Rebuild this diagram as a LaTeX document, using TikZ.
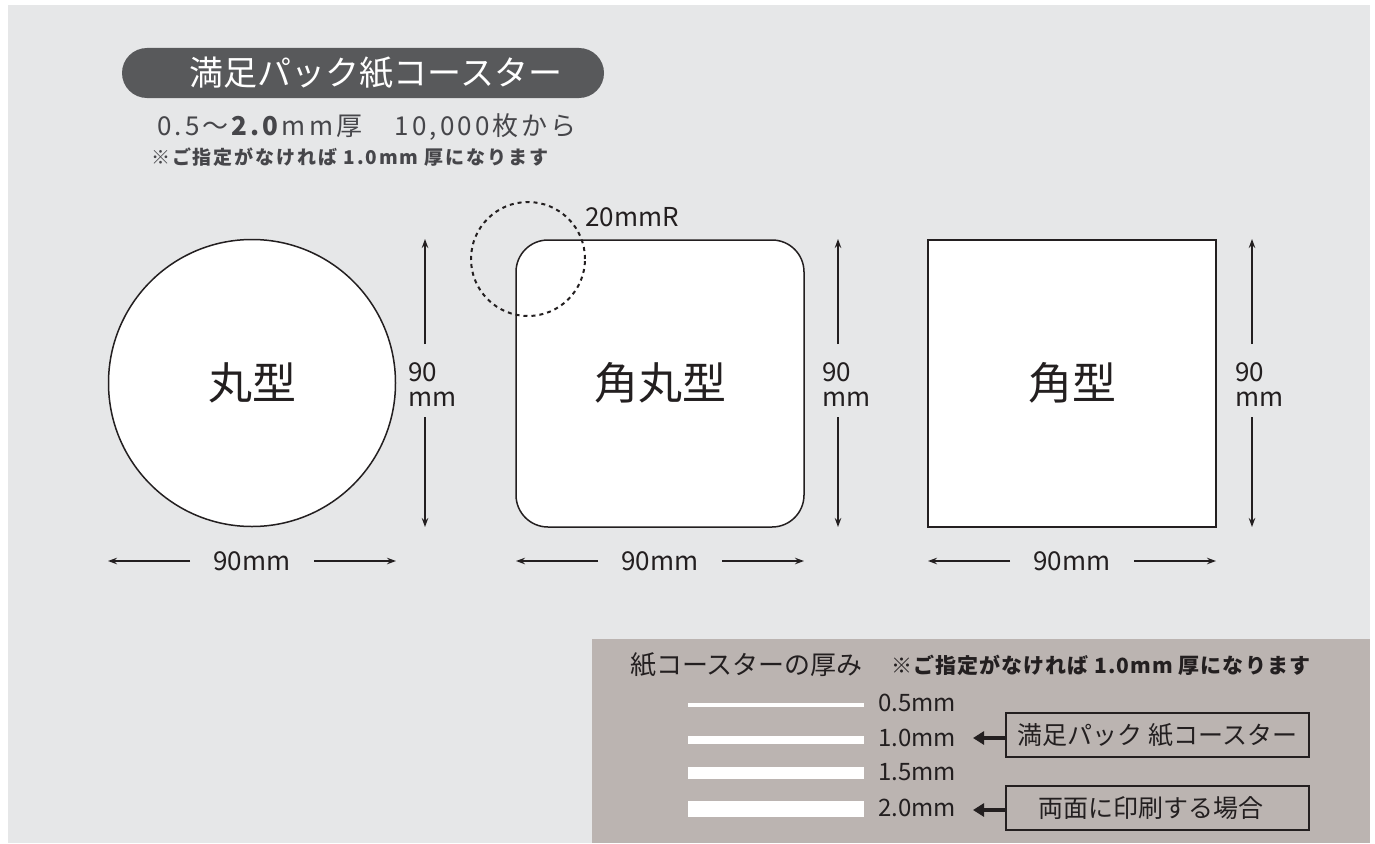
\documentclass[tikz,border=0pt]{standalone}
\usepackage{fontspec}
\setmainfont{Noto Sans CJK JP}
\newfontfamily\jpwide{Noto Sans CJK JP}[LetterSpace=12]
\newfontfamily\jpnote{Noto Sans CJK JP}[LetterSpace=10]
\newfontfamily\jppanel{Noto Sans CJK JP}[LetterSpace=5]
\usetikzlibrary{arrows.meta}
\definecolor{bg}{HTML}{E6E7E8}
\definecolor{pillc}{HTML}{58595B}
\definecolor{panelc}{HTML}{BBB4B1}
\definecolor{ink}{HTML}{231F20}
\definecolor{subc}{HTML}{46464A}
\tikzset{
  shapebox/.style={draw=ink, fill=white, line width=1.5pt, inner sep=0pt},
  dimarrow/.style={draw=ink, line width=1.2pt, -{Stealth[length=9pt,width=6.5pt]}},
  dimlabel/.style={text=ink, font=\fontsize{26}{24}\selectfont, inner sep=0pt},
  vlabel/.style={text=ink, font=\fontsize{26}{26}\selectfont, inner sep=0pt, anchor=base west},
  shapelabel/.style={text=ink, font=\fontsize{44}{48}\selectfont},
  rowlabel/.style={text=ink, font=\fontsize{24}{26}\selectfont, anchor=west, inner sep=0pt},
  tagbox/.style={draw=ink, line width=2pt, minimum width=303pt, minimum height=44pt, text=ink, inner sep=0pt},
  thickarrow/.style={draw=ink, line width=3.5pt, -{Triangle[length=11pt,width=13pt]}},
}
\begin{document}
\begin{tikzpicture}[x=1pt,y=-1pt]
\useasboundingbox (0,0) rectangle (1375,843);
\fill[bg] (8,5) rectangle (1370,843);

% title
\fill[pillc, rounded corners=25pt] (122,48) rectangle (604,98);
\node[text=white, font=\fontsize{34}{36}\selectfont] (title) at (376,73) {満足パック紙コースター};
\node[text=subc, font=\jpwide\fontsize{26}{28}\selectfont, anchor=west, inner sep=0pt] (sub) at (157,127) {0.5～\textbf{2.0}mm厚　10,000枚から};
\node[text=subc, font=\jpnote\bfseries\fontsize{19}{21}\selectfont, anchor=west, inner sep=0pt] (note) at (151,157) {※ご指定がなければ 1.0mm 厚になります};

% round
\node[shapebox, circle, minimum size=287pt] (maru) at (252,383) {};
\node[shapelabel] (marul) at (252,383) {丸型};
% rounded square
\node[shapebox, rectangle, rounded corners=32pt, minimum width=288pt, minimum height=287pt] (kadomaru) at (660,383.5) {};
\node[shapelabel] (kadomarul) at (660,383) {角丸型};
\node[circle, draw=ink, line width=2pt, dash pattern=on 4pt off 4pt, minimum size=114pt, inner sep=0pt] (rcirc) at (528,259) {};
\node[dimlabel, anchor=west] (rlabel) at (585,217) {20mmR};
% square
\node[shapebox, rectangle, minimum width=288pt, minimum height=287pt] (kaku) at (1072,383.5) {};
\node[shapelabel] (kakul) at (1072,383) {角型};

% vertical dims
\foreach \n/\x/\lx in {a/425/408, b/838/822, c/1252/1235}{
  \coordinate (vt\n) at (\x,239);
  \coordinate (vu\n) at (\x,344);
  \coordinate (vl\n) at (\x,417);
  \coordinate (vb\n) at (\x,527);
  \node[vlabel] (vlab\n) at (\lx,381) {90};
  \node[vlabel] (vlabm\n) at (\lx,406) {mm};
  \draw[dimarrow] (vu\n) -- (vt\n);
  \draw[dimarrow] (vl\n) -- (vb\n);
}
% horizontal dims
\foreach \n/\c/\l/\r in {a/252/108/396, b/660/516/804, c/1072/928/1216}{
  \node[dimlabel] (hlab\n) at (\c,561) {90mm};
  \coordinate (hl\n) at (\l,561);
  \coordinate (hr\n) at (\r,561);
  \coordinate (hgl\n) at (\c-62,561);
  \coordinate (hgr\n) at (\c+62,561);
  \draw[dimarrow] (hgl\n) -- (hl\n);
  \draw[dimarrow] (hgr\n) -- (hr\n);
}

% thickness panel
\fill[panelc] (592,639) rectangle (1370,843);
\node[text=ink, font=\fontsize{26}{28}\selectfont, anchor=west, inner sep=0pt] (ptitle) at (630,665) {紙コースターの厚み};
\node[text=ink, font=\jppanel\bfseries\fontsize{21}{23}\selectfont, anchor=west, inner sep=0pt] (pnote) at (891,665) {※ご指定がなければ 1.0mm 厚になります};
\fill[white] (688,703) rectangle (864,707);
\fill[white] (688,736) rectangle (864,744);
\fill[white] (688,767) rectangle (864,779);
\fill[white] (688,801) rectangle (864,817);
\node[rowlabel] (r05) at (878,703) {0.5mm};
\node[rowlabel] (r10) at (878,738) {1.0mm};
\node[rowlabel] (r15) at (878,772) {1.5mm};
\node[rowlabel] (r20) at (878,808) {2.0mm};
\node[tagbox, font=\fontsize{25}{26}\selectfont] (tag1) at (1157.5,735) {満足パック 紙コースター};
\node[tagbox, font=\fontsize{25}{26}\selectfont] (tag2) at (1157.5,808) {\hspace*{-14pt}両面に印刷する場合};
\coordinate (t1) at (973,738);
\coordinate (t2) at (973,810);
\draw[thickarrow] (tag1.west |- t1) -- (t1);
\draw[thickarrow] (tag2.west |- t2) -- (t2);
\end{tikzpicture}
\end{document}
